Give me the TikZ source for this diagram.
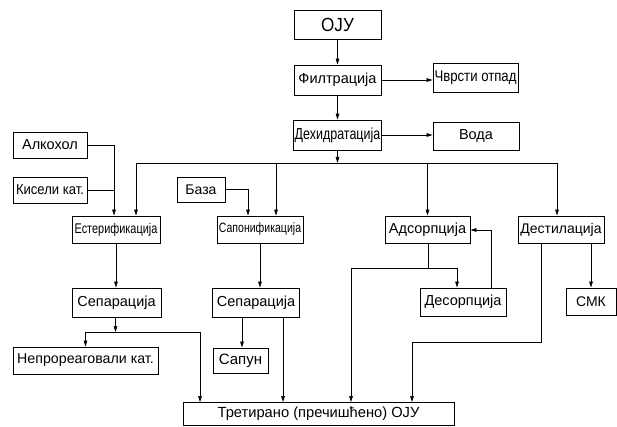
\documentclass[tikz,border=0pt]{standalone}
\usepackage{fontspec}
\setmainfont{Liberation Sans}
\newfontfamily\usko[FakeStretch=0.78]{Liberation Sans}
\newfontfamily\srednje[FakeStretch=0.85]{Liberation Sans}
\newfontfamily\polusko[FakeStretch=0.9]{Liberation Sans}
\usetikzlibrary{arrows.meta}

\begin{document}
\begin{tikzpicture}[x=1pt, y=-1pt,
  box/.style={draw, line width=0.9pt, inner sep=1pt, font=\fontsize{14.5}{16}\selectfont},
  tok/.style={line width=0.6pt, -{Triangle[length=6pt,width=3.6pt]}},
  vod/.style={line width=0.6pt}]
\useasboundingbox (0,0) rectangle (617,427);

% glavna linija
\node[box, minimum width=87pt, minimum height=29pt, font=\fontsize{19}{20}\polusko] (oju) at (337.5,24.5) {ОЈУ};
\node[box, minimum width=87pt, minimum height=30pt] (filt) at (337.5,80) {Филтрација};
\node[box, minimum width=85pt, minimum height=29pt, font=\fontsize{15.5}{17}\srednje] (cvrsti) at (475.5,77.5) {Чврсти отпад};
\node[box, minimum width=87pt, minimum height=30pt, font=\fontsize{16}{17}\usko] (dehid) at (337.5,135) {Дехидратација};
\node[box, minimum width=86pt, minimum height=28pt] (voda) at (476,136) {Вода};

% ulazi
\node[box, minimum width=74pt, minimum height=26pt] (alk) at (50,145) {Алкохол};
\node[box, minimum width=74pt, minimum height=26pt, font=\fontsize{14.5}{16}\polusko] (kis) at (50,190) {Кисели кат.};
\node[box, minimum width=48pt, minimum height=25pt, font=\fontsize{14}{16}\selectfont] (baza) at (201,189.5) {База};

% procesi
\node[box, minimum width=88pt, minimum height=27pt, font=\fontsize{14}{16}\usko] (ester) at (116,229.5) {Естерификација};
\node[box, minimum width=86pt, minimum height=27pt, font=\fontsize{13.5}{16}\usko] (sapon) at (260,229.5) {Сапонификација};
\node[box, minimum width=85pt, minimum height=27pt] (ads) at (427.5,229.5) {Адсорпција};
\node[box, minimum width=86pt, minimum height=27pt, font=\fontsize{14}{16}\selectfont] (dest) at (561,229.5) {Дестилација};

\node[box, minimum width=89pt, minimum height=29pt] (sep1) at (116.5,302.5) {Сепарација};
\node[box, minimum width=87pt, minimum height=29pt] (sep2) at (256,302.5) {Сепарација};
\node[box, minimum width=86pt, minimum height=28pt] (desorp) at (463,302) {Десорпција};
\node[box, minimum width=50pt, minimum height=27pt, font=\fontsize{14}{16}\selectfont] (smk) at (591,301.5) {СМК};

% izlazi
\node[box, minimum width=145pt, minimum height=27pt, font=\fontsize{14.2}{16}\selectfont] (nepro) at (85.5,360.5) {Непрореаговали кат.};
\node[box, minimum width=55pt, minimum height=25pt, font=\fontsize{15}{16}\selectfont] (sapun) at (240.5,360.5) {Сапун};
\node[box, minimum width=271pt, minimum height=23pt, font=\fontsize{14.7}{16}\selectfont] (tret) at (318.5,414) {Третирано (пречишћено) ОЈУ};

% tokovi
\draw[tok] (oju) -- (filt);
\draw[tok] (filt) -- (dehid);
\draw[tok] (filt.east) -- (filt.east -| cvrsti.west);
\draw[tok] (dehid.east) -- (dehid.east -| voda.west);

\coordinate (s0) at (337.5,163);
\coordinate (s1) at (136,163);
\coordinate (s2) at (276,163);
\coordinate (s3) at (427.5,163);
\coordinate (s4) at (557,163);
\draw[tok] (dehid) -- (s0);
\draw[vod] (s1) -- (s4);
\draw[tok] (s1) -- (s1 |- ester.north);
\draw[tok] (s2) -- (s2 |- sapon.north);
\draw[tok] (s3) -- (s3 |- ads.north);
\draw[tok] (s4) -- (s4 |- dest.north);

\coordinate (k1) at (114,145);
\draw[tok] (alk.east) -- (k1) -- (k1 |- ester.north);
\draw[vod] (kis.east) -- (kis.east -| k1);
\coordinate (b1) at (248,189.5);
\draw[tok] (baza.east) -- (b1) -- (b1 |- sapon.north);

\draw[tok] (ester.south) -- (ester.south |- sep1.north);
\draw[tok] (sapon.south) -- (sapon.south |- sep2.north);

% separacija 1
\coordinate (r0) at (85.5,332);
\coordinate (r1) at (115.5,332);
\coordinate (r2) at (200,332);
\draw[tok] (r1 |- sep1.south) -- (r1);
\draw[vod] (r0) -- (r2);
\draw[tok] (r0) -- (r0 |- nepro.north);
\draw[tok] (r2) -- (r2 |- tret.north);

% separacija 2
\coordinate (p1) at (242,317);
\coordinate (p2) at (283,317);
\draw[tok] (p1 |- sep2.south) -- (p1 |- sapun.north);
\draw[tok] (p2 |- sep2.south) -- (p2 |- tret.north);

% adsorpcija / desorpcija
\coordinate (a0) at (351,268);
\coordinate (a1) at (428,268);
\coordinate (a2) at (457,268);
\draw[vod] (a1 |- ads.south) -- (a1);
\draw[vod] (a0) -- (a2);
\draw[tok] (a2) -- (a2 |- desorp.north);
\draw[tok] (a0) -- (a0 |- tret.north);
\coordinate (d1) at (491,230);
\draw[tok] (d1 |- desorp.north) -- (d1) -- (d1 -| ads.east);

% destilacija
\coordinate (e1) at (541,342);
\coordinate (e2) at (412,342);
\draw[tok] (e1 |- dest.south) -- (e1) -- (e2) -- (e2 |- tret.north);
\draw[tok] (smk.north |- dest.south) -- (smk.north);
\end{tikzpicture}
\end{document}
